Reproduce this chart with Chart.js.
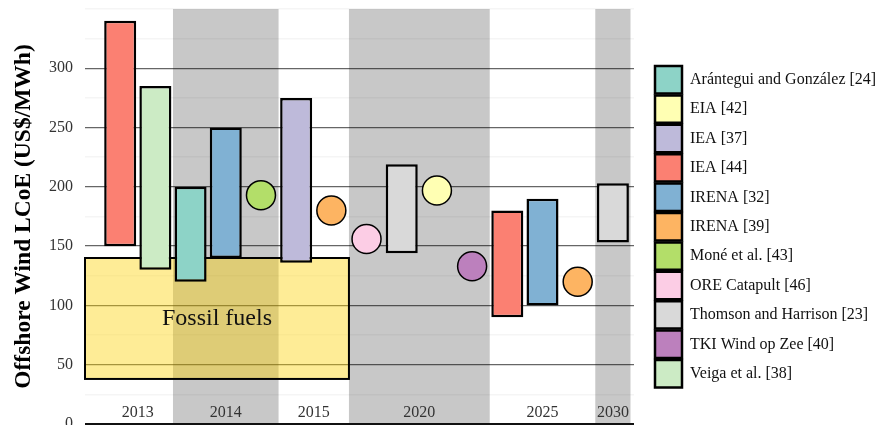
<!DOCTYPE html>
<html><head><meta charset="utf-8">
<script src="https://cdn.jsdelivr.net/npm/chart.js@4"></script>
<style>html,body{margin:0;padding:0;background:#fff;}canvas{display:block;}</style>
</head><body>
<canvas id="c" width="881" height="425"></canvas>
<script>
// ---- data ----
const years = ['2013', '2014', '2015', '2020', '2025', '2030'];
const sources = ['Arántegui and González [24]', 'EIA [42]', 'IEA [37]', 'IEA [44]', 'IRENA [32]', 'IRENA [39]',
  'Moné et al. [43]', 'ORE Catapult [46]', 'Thomson and Harrison [23]', 'TKI Wind op Zee [40]', 'Veiga et al. [38]'];
// estimates, in plotting order (one slot each)
const estYear = ['2013', '2013', '2014', '2014', '2014', '2015', '2015', '2020', '2020', '2020', '2020', '2025', '2025', '2025', '2030'];
const estSource = ['IEA [44]', 'Veiga et al. [38]', 'Arántegui and González [24]', 'IRENA [32]', 'Moné et al. [43]',
  'IEA [37]', 'IRENA [39]', 'ORE Catapult [46]', 'Thomson and Harrison [23]', 'EIA [42]', 'TKI Wind op Zee [40]',
  'IEA [44]', 'IRENA [32]', 'IRENA [39]', 'Thomson and Harrison [23]'];
const estLow  = [150, 130, 120, 140, 193, 136, 180, 156, 144, 197, 133, 90, 100, 120, 153];
const estHigh = [340, 285, 200, 250, 193, 275, 180, 156, 219, 197, 133, 180, 190, 120, 203];
const fossilRange = [38, 140];
const fossilYears = ['2013', '2015'];
const fossilLabel = 'Fossil fuels';
const yTickLabels = [0, 50, 100, 150, 200, 250, 300];
const yTitle = 'Offshore Wind LCoE (US$/MWh)';

// ---- styles ----
const palette = ['#8dd3c7', '#ffffb3', '#bebada', '#fb8072', '#80b1d3', '#fdb462', '#b3de69', '#fccde5', '#d9d9d9', '#bc80bd', '#ccebc5'];
const SERIF = "'Liberation Serif', 'Times New Roman', serif";

const slotsOf = yr => estYear.map((y, i) => y === yr ? i : -1).filter(i => i >= 0);
const groupStart = yr => Math.min(...slotsOf(yr)) - 0.5;
const groupEnd = yr => Math.max(...slotsOf(yr)) + 0.5;
const groupCenter = yr => (Math.min(...slotsOf(yr)) + Math.max(...slotsOf(yr))) / 2;

const datasets = sources.map((src, k) => {
  const idx = estSource.map((s, i) => s === src ? i : -1).filter(i => i >= 0);
  const isPoint = idx.every(i => estLow[i] === estHigh[i]);
  if (isPoint) {
    return { type: 'scatter', label: src, yAxisID: 'y', xAxisID: 'x',
      data: idx.map(i => ({ x: i, y: estLow[i] })),
      backgroundColor: palette[k], borderColor: '#000', borderWidth: 1.5, pointRadius: 14.5, pointHoverRadius: 14.5 };
  }
  return { type: 'bar', label: src, yAxisID: 'y', xAxisID: 'x',
    data: idx.map(i => ({ x: i, y: [estLow[i], estHigh[i]] })),
    backgroundColor: palette[k], borderColor: '#000', borderWidth: 2.5, borderSkipped: false,
    grouped: false, barPercentage: 0.91, categoryPercentage: 1 };
});

const bandsPlugin = {
  id: 'bands',
  beforeDraw(chart) {
    const { ctx, chartArea: a, scales: { x } } = chart;
    ctx.save();
    ctx.fillStyle = '#c8c8c8';
    years.forEach((yr, g) => {
      if (g % 2 === 1) {
        const x0 = x.getPixelForValue(groupStart(yr));
        const x1 = x.getPixelForValue(groupEnd(yr));
        ctx.fillRect(x0, a.top, x1 - x0, a.bottom - a.top);
      }
    });
    ctx.restore();
  }
};

const fossilPlugin = {
  id: 'fossil',
  beforeDatasetsDraw(chart) {
    const { ctx, chartArea: a, scales: { x, y } } = chart;
    const x0 = a.left;
    const x1 = x.getPixelForValue(groupEnd(fossilYears[1]));
    const y0 = y.getPixelForValue(fossilRange[1]);
    const y1 = y.getPixelForValue(fossilRange[0]);
    ctx.save();
    ctx.fillStyle = 'rgba(253,210,5,0.42)';
    ctx.fillRect(x0, y0, x1 - x0, y1 - y0);
    ctx.lineWidth = 2;
    ctx.strokeStyle = '#000';
    ctx.strokeRect(x0, y0, x1 - x0, y1 - y0);
    ctx.fillStyle = '#111';
    ctx.font = '24px ' + SERIF;
    ctx.textAlign = 'center';
    ctx.textBaseline = 'middle';
    ctx.fillText(fossilLabel, (x0 + x1) / 2, (y0 + y1) / 2);
    ctx.restore();
  }
};

new Chart(document.getElementById('c'), {
  type: 'bar',
  data: { datasets },
  plugins: [bandsPlugin, fossilPlugin],
  options: {
    responsive: false,
    animation: false,
    events: [],
    devicePixelRatio: 1,
    layout: { autoPadding: false, padding: { top: 9, bottom: 1, left: 0, right: 0 } },
    plugins: {
      tooltip: { enabled: false },
      legend: {
        position: 'right',
        align: 'start',
        maxWidth: 228,
        title: { display: true, text: '', font: { size: 10, lineHeight: 1 }, padding: { top: 45, bottom: 0 } },
        labels: {
          boxWidth: 27, boxHeight: 27.4, padding: 2,
          color: '#111',
          font: { family: SERIF, size: 16 },
          generateLabels: chart => chart.data.datasets.map((ds, i) => ({
            text: ds.label, fillStyle: ds.backgroundColor, strokeStyle: '#000', lineWidth: 2.5,
            hidden: false, datasetIndex: i, fontColor: '#111'
          }))
        }
      }
    },
    scales: {
      x: {
        type: 'linear', min: -1, max: 14.6, offset: false,
        grid: { display: false }, border: { display: false },
        afterBuildTicks: axis => { axis.ticks = years.map(yr => ({ value: groupCenter(yr) })); },
        afterFit: axis => { axis.height = 0; axis.paddingLeft = 0; axis.paddingRight = 0; },
        ticks: {
          autoSkip: false, maxRotation: 0, minRotation: 0, mirror: true, padding: 2,
          color: '#333', font: { family: SERIF, size: 16 },
          callback: (v, i) => years[i]
        }
      },
      y: {
        type: 'linear', position: 'left', min: 0, max: 350,
        afterFit: axis => { axis.width = 85; axis.paddingTop = 0; axis.paddingBottom = 0; },
        border: { display: false },
        grid: {
          drawTicks: false,
          color: c => c.tick.value === 0 ? '#111' : (c.tick.value % 50 === 0 && c.tick.value <= 300 ? 'rgba(0,0,0,0.6)' : 'rgba(0,0,0,0.04)'),
          lineWidth: c => c.tick.value === 0 ? 2 : (c.tick.value % 50 === 0 && c.tick.value <= 300 ? 1.3 : 1.5)
        },
        ticks: {
          stepSize: 25, includeBounds: false, padding: 12,
          color: '#333', font: { family: SERIF, size: 16 },
          callback: v => yTickLabels.includes(v) ? String(v) : ''
        },
        title: {
          display: true, text: yTitle, color: '#000',
          font: { family: SERIF, size: 23.5, weight: 'bold' },
          padding: { top: 10, bottom: 0 }
        }
      },
      y2: {
        type: 'linear', position: 'right', display: true,
        grid: { display: false }, border: { display: false }, ticks: { display: false },
        afterFit: axis => { axis.width = 19; axis.paddingTop = 0; axis.paddingBottom = 0; }
      }
    }
  }
});
</script>
</body></html>
